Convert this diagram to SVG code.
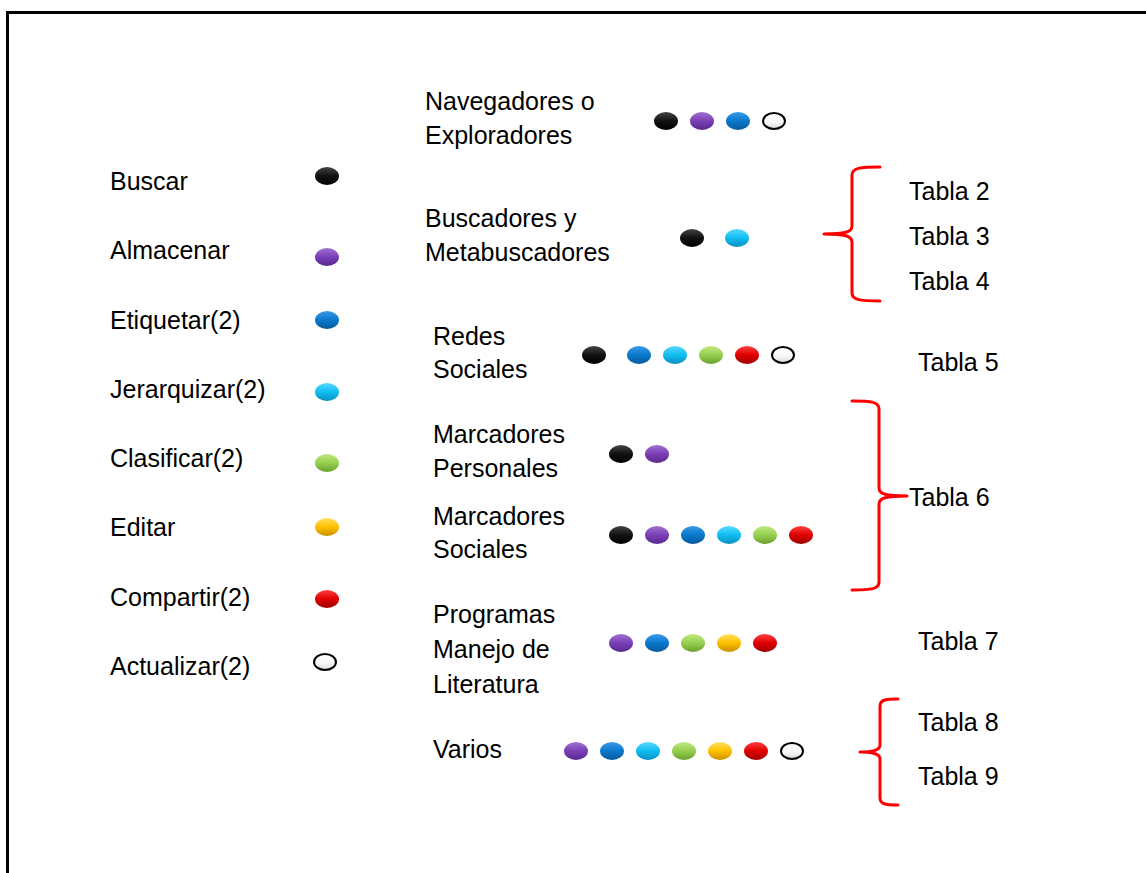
<svg xmlns="http://www.w3.org/2000/svg" width="1146" height="873" viewBox="0 0 1146 873">
<style>
text{font-family:"Liberation Sans",Arial,sans-serif;font-size:25px;fill:#000}
.brace{fill:none;stroke:#ff0000;stroke-width:3;stroke-linecap:round;stroke-linejoin:round}
.frame{fill:none;stroke:#000;stroke-width:3}
</style>
<defs>
<linearGradient id="gK" x1="0" y1="0" x2="0" y2="1"><stop offset="0" stop-color="#444"/><stop offset="0.5" stop-color="#111"/><stop offset="1" stop-color="#000"/></linearGradient>
<linearGradient id="gP" x1="0" y1="0" x2="0" y2="1"><stop offset="0" stop-color="#a070d0"/><stop offset="0.5" stop-color="#7a3fb5"/><stop offset="1" stop-color="#5a2890"/></linearGradient>
<linearGradient id="gB" x1="0" y1="0" x2="0" y2="1"><stop offset="0" stop-color="#3a9ae8"/><stop offset="0.5" stop-color="#0a78cc"/><stop offset="1" stop-color="#075a9c"/></linearGradient>
<linearGradient id="gC" x1="0" y1="0" x2="0" y2="1"><stop offset="0" stop-color="#5ad8ff"/><stop offset="0.5" stop-color="#10bdf2"/><stop offset="1" stop-color="#0a90c0"/></linearGradient>
<linearGradient id="gG" x1="0" y1="0" x2="0" y2="1"><stop offset="0" stop-color="#c0e880"/><stop offset="0.5" stop-color="#96d050"/><stop offset="1" stop-color="#6aa030"/></linearGradient>
<linearGradient id="gY" x1="0" y1="0" x2="0" y2="1"><stop offset="0" stop-color="#ffe060"/><stop offset="0.5" stop-color="#ffc000"/><stop offset="1" stop-color="#c89000"/></linearGradient>
<linearGradient id="gR" x1="0" y1="0" x2="0" y2="1"><stop offset="0" stop-color="#ff4040"/><stop offset="0.5" stop-color="#e00000"/><stop offset="1" stop-color="#a00000"/></linearGradient>
<linearGradient id="gW" x1="0" y1="0" x2="0" y2="1"><stop offset="0" stop-color="#ffffff"/><stop offset="0.6" stop-color="#f6f6f6"/><stop offset="1" stop-color="#d8d8d8"/></linearGradient>
<ellipse id="bK" rx="12" ry="9" fill="url(#gK)"/>
<ellipse id="bP" rx="12" ry="9" fill="url(#gP)"/>
<ellipse id="bB" rx="12" ry="9" fill="url(#gB)"/>
<ellipse id="bC" rx="12" ry="9" fill="url(#gC)"/>
<ellipse id="bG" rx="12" ry="9" fill="url(#gG)"/>
<ellipse id="bY" rx="12" ry="9" fill="url(#gY)"/>
<ellipse id="bR" rx="12" ry="9" fill="url(#gR)"/>
<ellipse id="bW" rx="11" ry="8" fill="url(#gW)" stroke="#000" stroke-width="2"/>
</defs>
<rect width="1146" height="873" fill="#fff"/>
<path class="frame" d="M7.5,873 L7.5,12.5 L1146,12.5"/>

<g id="legend">
<g id="leg-buscar"><text x="110" y="190">Buscar</text><use href="#bK" x="327" y="176"/></g>
<g id="leg-almacenar"><text x="110" y="259">Almacenar</text><use href="#bP" x="327" y="257"/></g>
<g id="leg-etiquetar"><text x="110" y="329">Etiquetar(2)</text><use href="#bB" x="327" y="320"/></g>
<g id="leg-jerarquizar"><text x="110" y="398">Jerarquizar(2)</text><use href="#bC" x="327" y="392"/></g>
<g id="leg-clasificar"><text x="110" y="467">Clasificar(2)</text><use href="#bG" x="327" y="463"/></g>
<g id="leg-editar"><text x="110" y="536">Editar</text><use href="#bY" x="327" y="527"/></g>
<g id="leg-compartir"><text x="110" y="606">Compartir(2)</text><use href="#bR" x="327" y="599"/></g>
<g id="leg-actualizar"><text x="110" y="675">Actualizar(2)</text><use href="#bW" x="325" y="662"/></g>
</g>

<g id="navegadores">
<text x="425" y="110">Navegadores o</text><text x="425" y="144">Exploradores</text>
<use href="#bK" x="666" y="121"/><use href="#bP" x="702" y="121"/><use href="#bB" x="738" y="121"/><use href="#bW" x="774" y="121"/>
</g>
<g id="buscadores">
<text x="425" y="227">Buscadores y</text><text x="425" y="261">Metabuscadores</text>
<use href="#bK" x="692" y="238"/><use href="#bC" x="737" y="238"/>
</g>
<g id="redes">
<text x="433" y="345">Redes</text><text x="433" y="378">Sociales</text>
<use href="#bK" x="594" y="355"/><use href="#bB" x="639" y="355"/><use href="#bC" x="675" y="355"/><use href="#bG" x="711" y="355"/><use href="#bR" x="747" y="355"/><use href="#bW" x="783" y="355"/>
</g>
<g id="marc-personales">
<text x="433" y="443">Marcadores</text><text x="433" y="477">Personales</text>
<use href="#bK" x="621" y="454"/><use href="#bP" x="657" y="454"/>
</g>
<g id="marc-sociales">
<text x="433" y="525">Marcadores</text><text x="433" y="558">Sociales</text>
<use href="#bK" x="621" y="535"/><use href="#bP" x="657" y="535"/><use href="#bB" x="693" y="535"/><use href="#bC" x="729" y="535"/><use href="#bG" x="765" y="535"/><use href="#bR" x="801" y="535"/>
</g>
<g id="programas">
<text x="433" y="623">Programas</text><text x="433" y="658">Manejo de</text><text x="433" y="693">Literatura</text>
<use href="#bP" x="621" y="643"/><use href="#bB" x="657" y="643"/><use href="#bG" x="693" y="643"/><use href="#bY" x="729" y="643"/><use href="#bR" x="765" y="643"/>
</g>
<g id="varios">
<text x="433" y="758">Varios</text>
<use href="#bP" x="576" y="751"/><use href="#bB" x="612" y="751"/><use href="#bC" x="648" y="751"/><use href="#bG" x="684" y="751"/><use href="#bY" x="720" y="751"/><use href="#bR" x="756" y="751"/><use href="#bW" x="792" y="751"/>
</g>

<g id="tablas">
<text x="909" y="200">Tabla 2</text>
<text x="909" y="245">Tabla 3</text>
<text x="909" y="290">Tabla 4</text>
<text x="918" y="371">Tabla 5</text>
<text x="909" y="506">Tabla 6</text>
<text x="918" y="650">Tabla 7</text>
<text x="918" y="731">Tabla 8</text>
<text x="918" y="785">Tabla 9</text>
</g>

<g id="connectors">
<path class="brace" d="M880,167 C860,167 852,168 852,175 L852,226 C852,232 845,234 824,234 C845,234 852,236 852,242 L852,293 C852,300 860,301 880,301"/>
<path class="brace" d="M852,401 C872,401 879,402 879,409 L879,488 C879,494 886,496 907,496 C886,496 879,498 879,504 L879,582 C879,589 872,590 852,590"/>
<path class="brace" d="M898,699 C885,699 880,700 880,706 L880,745 C880,750 874,752 860,752 C874,752 880,754 880,759 L880,798 C880,804 885,805 898,805"/>
</g>
</svg>
